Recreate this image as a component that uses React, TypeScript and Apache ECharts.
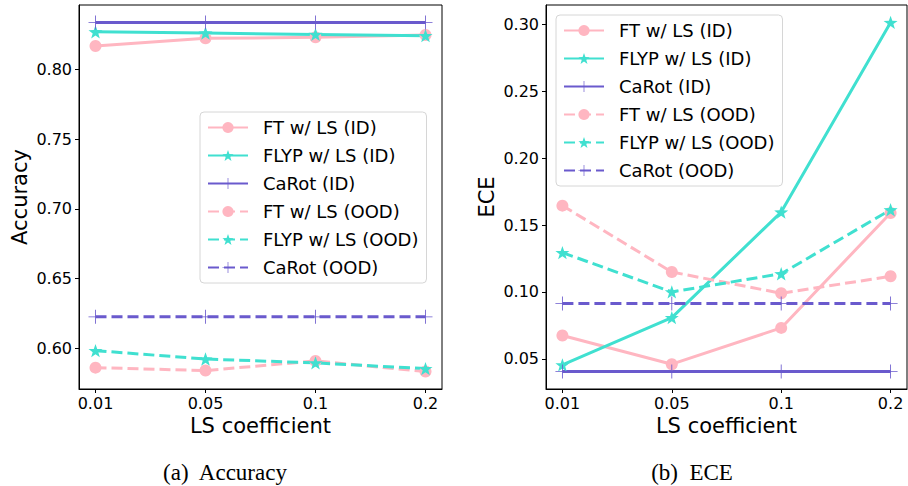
import React, { useEffect, useRef } from "react";
import * as echarts from "echarts";

const categories = ["0.01", "0.05", "0.1", "0.2"];
const seriesNames = [
  "FT w/ LS (ID)",
  "FLYP w/ LS (ID)",
  "CaRot (ID)",
  "FT w/ LS (OOD)",
  "FLYP w/ LS (OOD)",
  "CaRot (OOD)",
];

const accFtId = [0.8169, 0.8224, 0.8231, 0.8248];
const accFlypId = [0.8271, 0.8262, 0.8252, 0.8243];
const accCarotId = [0.8338, 0.8338, 0.8338, 0.8338];
const accFtOod = [0.5859, 0.5838, 0.5907, 0.5831];
const accFlypOod = [0.5981, 0.5921, 0.5893, 0.5852];
const accCarotOod = [0.6224, 0.6224, 0.6224, 0.6224];

const eceFtId = [0.0674, 0.046, 0.0731, 0.159];
const eceFlypId = [0.0455, 0.0808, 0.1597, 0.3014];
const eceCarotId = [0.0405, 0.0405, 0.0405, 0.0405];
const eceFtOod = [0.1645, 0.1149, 0.099, 0.1117];
const eceFlypOod = [0.1294, 0.1, 0.1136, 0.1614];
const eceCarotOod = [0.0913, 0.0913, 0.0913, 0.0913];

const accTicks = [0.6, 0.65, 0.7, 0.75, 0.8];
const eceTicks = [0.05, 0.1, 0.15, 0.2, 0.25, 0.3];

const PINK = "#FFB6C1";
const TURQ = "#40E0D0";
const SLATE = "#6A5ACD";

function starPath() {
  const pts: string[] = [];
  for (let i = 0; i < 10; i++) {
    const a = -Math.PI / 2 + (i * Math.PI) / 5;
    const r = i % 2 === 0 ? 1 : 0.4;
    pts.push(`${(r * Math.cos(a)).toFixed(4)} ${(r * Math.sin(a)).toFixed(4)}`);
  }
  return "path://M" + pts.join(" L") + " Z";
}
const STAR = starPath();
const PLUS =
  "path://M-0.06 -1 L0.06 -1 L0.06 -0.06 L1 -0.06 L1 0.06 L0.06 0.06 L0.06 1 L-0.06 1 L-0.06 0.06 L-1 0.06 L-1 -0.06 L-0.06 -0.06 Z";

const FONT = "DejaVu Sans";

function padRange(arrs: number[][]) {
  const all = arrs.flat();
  const mn = Math.min(...all);
  const mx = Math.max(...all);
  const m = (mx - mn) * 0.05;
  return [mn - m, mx + m];
}

export default function App() {
  const ref = useRef<HTMLDivElement>(null);
  useEffect(() => {
    if (!ref.current) return;
    const chart = echarts.init(ref.current, null, { renderer: "svg" });
    const accData = [accFtId, accFlypId, accCarotId, accFtOod, accFlypOod, accCarotOod];
    const eceData = [eceFtId, eceFlypId, eceCarotId, eceFtOod, eceFlypOod, eceCarotOod];
    const colors = [PINK, TURQ, SLATE, PINK, TURQ, SLATE];
    const symbols = ["circle", STAR, PLUS, "circle", STAR, PLUS];
    const sizes = [12, 14, 14, 12, 14, 14];
    const dashed = [false, false, false, true, true, true];
    const accR = padRange(accData);
    const eceR = padRange(eceData);

    const makeSeries = (data: number[][], gi: number) =>
      data.map((vals, i) => ({
        type: "line",
        name: seriesNames[i],
        xAxisIndex: gi,
        yAxisIndex: gi,
        data: vals.map((v, k) => [k, v]),
        symbol: symbols[i],
        symbolSize: sizes[i],
        symbolKeepAspect: true,
        showSymbol: true,
        color: colors[i],
        itemStyle: { color: colors[i] },
        lineStyle: { color: colors[i], width: 3, type: dashed[i] ? [11, 5] : "solid" },
        emphasis: { disabled: true },
      }));

    const xAxisBase = (gi: number) => ({
      type: "value",
      gridIndex: gi,
      position: "bottom",
      min: -0.15,
      max: 3.15,
      name: "LS coefficient",
      nameLocation: "middle",
      nameGap: 24,
      nameTextStyle: { fontSize: 21, color: "#000", fontFamily: FONT },
      axisLine: { show: true, onZero: false, lineStyle: { color: "#000", width: 1 } },
      splitLine: { show: false },
      axisTick: { show: true, length: 4, customValues: [0, 1, 2, 3], lineStyle: { color: "#000" } },
      axisLabel: {
        customValues: [0, 1, 2, 3],
        formatter: (v: number) => categories[Math.round(v)] ?? "",
        fontSize: 16,
        color: "#000",
        fontFamily: FONT,
        margin: 6,
      },
    });

    const yAxisBase = (gi: number, r: number[], ticks: number[], name: string) => ({
      type: "value",
      gridIndex: gi,
      position: "left",
      min: r[0],
      max: r[1],
      name,
      nameLocation: "middle",
      nameGap: 49,
      nameTextStyle: { fontSize: 21, color: "#000", fontFamily: FONT },
      axisLine: { show: true, onZero: false, lineStyle: { color: "#000", width: 1 } },
      splitLine: { show: false },
      axisTick: { show: true, length: 4, customValues: ticks, lineStyle: { color: "#000" } },
      axisLabel: {
        customValues: ticks,
        formatter: (v: number) => v.toFixed(2),
        fontSize: 16,
        color: "#000",
        fontFamily: FONT,
        margin: 7,
      },
    });

    const legendBase = (left: number, top: number) => ({
      orient: "vertical",
      left,
      top,
      itemWidth: 40,
      itemHeight: 14,
      itemGap: 10,
      padding: [6.5, 8, 6.5, 7],
      backgroundColor: "rgba(255,255,255,0.8)",
      borderColor: "#d6d6d6",
      borderWidth: 1,
      borderRadius: 4,
      selectedMode: false,
      textStyle: { fontSize: 18, color: "#000", fontFamily: FONT, padding: [0, 0, 0, 10] },
      data: seriesNames,
    });

    chart.setOption({
      animation: false,
      textStyle: { fontFamily: FONT },
      grid: [
        { left: 79, top: 5, width: 363, height: 384, show: true, borderColor: "#000", borderWidth: 1, backgroundColor: "transparent" },
        { left: 546, top: 5, width: 361, height: 384, show: true, borderColor: "#000", borderWidth: 1, backgroundColor: "transparent" },
      ],
      xAxis: [xAxisBase(0), xAxisBase(1)],
      yAxis: [yAxisBase(0, accR, accTicks, "Accuracy"), yAxisBase(1, eceR, eceTicks, "ECE")],
      legend: [legendBase(200, 112), legendBase(556, 15)],
      series: [...makeSeries(accData, 0), ...makeSeries(eceData, 1)],
      graphic: [
        {
          type: "text",
          x: 225,
          y: 472,
          style: {
            text: "(a)  Accuracy",
            textAlign: "center",
            textVerticalAlign: "middle",
            fontFamily: "Liberation Serif",
            fontSize: 23,
            fill: "#000",
          },
        },
        {
          type: "text",
          x: 692,
          y: 472,
          style: {
            text: "(b)  ECE",
            textAlign: "center",
            textVerticalAlign: "middle",
            fontFamily: "Liberation Serif",
            fontSize: 23,
            fill: "#000",
          },
        },
      ],
    });
    return () => chart.dispose();
  }, []);
  return (
    <div
      ref={ref}
      style={{ position: "absolute", left: 0, top: 0, width: 908, height: 486, background: "#fff" }}
    />
  );
}
